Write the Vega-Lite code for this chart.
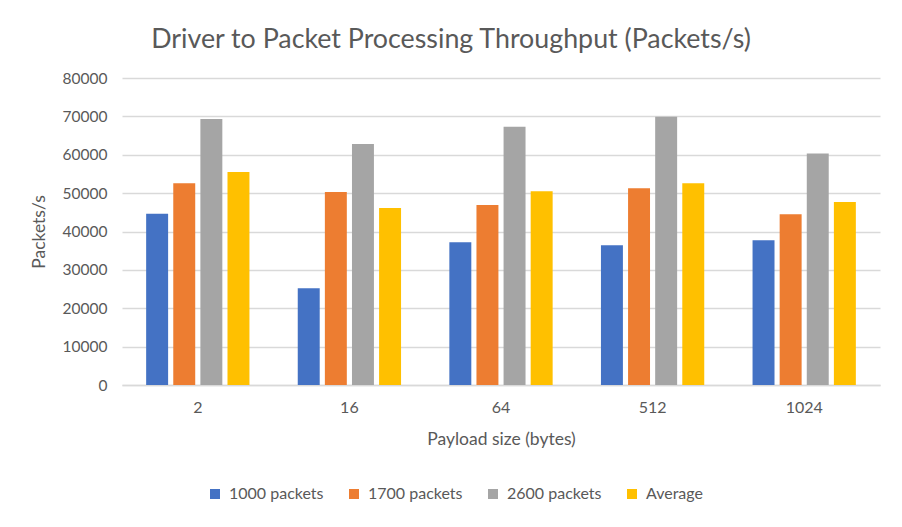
{
  "$schema": "https://vega.github.io/schema/vega-lite/v6.json",
  "autosize": {"type": "none"},
  "width": 758,
  "height": 307,
  "padding": {"left": 122, "top": 78, "right": 22, "bottom": 142},
  "background": "white",
  "title": {
    "text": "Driver to Packet Processing Throughput (Packets/s)",
    "font": "Lato",
    "fontSize": 26.8,
    "fontWeight": "normal",
    "color": "#595959",
    "anchor": "middle",
    "dx": -50,
    "offset": 17
  },
  "data": {
    "values": [
      {"size": "2", "series": "1000 packets", "value": 44600},
      {"size": "2", "series": "1700 packets", "value": 52600},
      {"size": "2", "series": "2600 packets", "value": 69300},
      {"size": "2", "series": "Average", "value": 55500},
      {"size": "16", "series": "1000 packets", "value": 25200},
      {"size": "16", "series": "1700 packets", "value": 50300},
      {"size": "16", "series": "2600 packets", "value": 62800},
      {"size": "16", "series": "Average", "value": 46100},
      {"size": "64", "series": "1000 packets", "value": 37200},
      {"size": "64", "series": "1700 packets", "value": 46900},
      {"size": "64", "series": "2600 packets", "value": 67300},
      {"size": "64", "series": "Average", "value": 50500},
      {"size": "512", "series": "1000 packets", "value": 36400},
      {"size": "512", "series": "1700 packets", "value": 51300},
      {"size": "512", "series": "2600 packets", "value": 69900},
      {"size": "512", "series": "Average", "value": 52600},
      {"size": "1024", "series": "1000 packets", "value": 37700},
      {"size": "1024", "series": "1700 packets", "value": 44500},
      {"size": "1024", "series": "2600 packets", "value": 60300},
      {"size": "1024", "series": "Average", "value": 47700}
    ]
  },
  "mark": {"type": "bar"},
  "encoding": {
    "x": {
      "field": "size",
      "type": "nominal",
      "sort": ["2", "16", "64", "512", "1024"],
      "title": "Payload size (bytes)",
      "scale": {"paddingInner": 0.29, "paddingOuter": 0.145},
      "axis": {
        "labelAngle": 0,
        "labelFont": "Lato",
        "labelFontSize": 16,
        "labelColor": "#595959",
        "labelPadding": 14,
        "titleFont": "Lato",
        "titleFontSize": 17.5,
        "titleFontWeight": "normal",
        "titleColor": "#595959",
        "titlePadding": 15,
        "ticks": false,
        "domainColor": "#D9D9D9",
        "domainWidth": 1.5,
        "grid": false
      }
    },
    "xOffset": {
      "field": "series",
      "type": "nominal",
      "scale": {"paddingInner": 0.19, "paddingOuter": 0.08}
    },
    "y": {
      "field": "value",
      "type": "quantitative",
      "title": "Packets/s",
      "scale": {"domain": [0, 80000]},
      "axis": {
        "values": [0, 10000, 20000, 30000, 40000, 50000, 60000, 70000, 80000],
        "format": "d",
        "labelFont": "Lato",
        "labelFontSize": 15.5,
        "labelColor": "#595959",
        "labelPadding": 15,
        "titleFont": "Lato",
        "titleFontSize": 17.5,
        "titleFontWeight": "normal",
        "titleColor": "#595959",
        "titlePadding": 14,
        "ticks": false,
        "domain": false,
        "gridColor": "#D9D9D9",
        "gridWidth": 1.5
      }
    },
    "color": {
      "field": "series",
      "type": "nominal",
      "scale": {
        "domain": ["1000 packets", "1700 packets", "2600 packets", "Average"],
        "range": ["#4472C4", "#ED7D31", "#A5A5A5", "#FFC000"]
      },
      "legend": {
        "title": null,
        "orient": "none",
        "direction": "horizontal",
        "legendX": 85,
        "legendY": 408,
        "symbolType": "square",
        "symbolSize": 100,
        "symbolStrokeWidth": 0,
        "labelFont": "Lato",
        "labelFontSize": 16,
        "labelColor": "#595959",
        "columnPadding": 22,
        "labelOffset": 6
      }
    }
  },
  "config": {"view": {"stroke": null}}
}
